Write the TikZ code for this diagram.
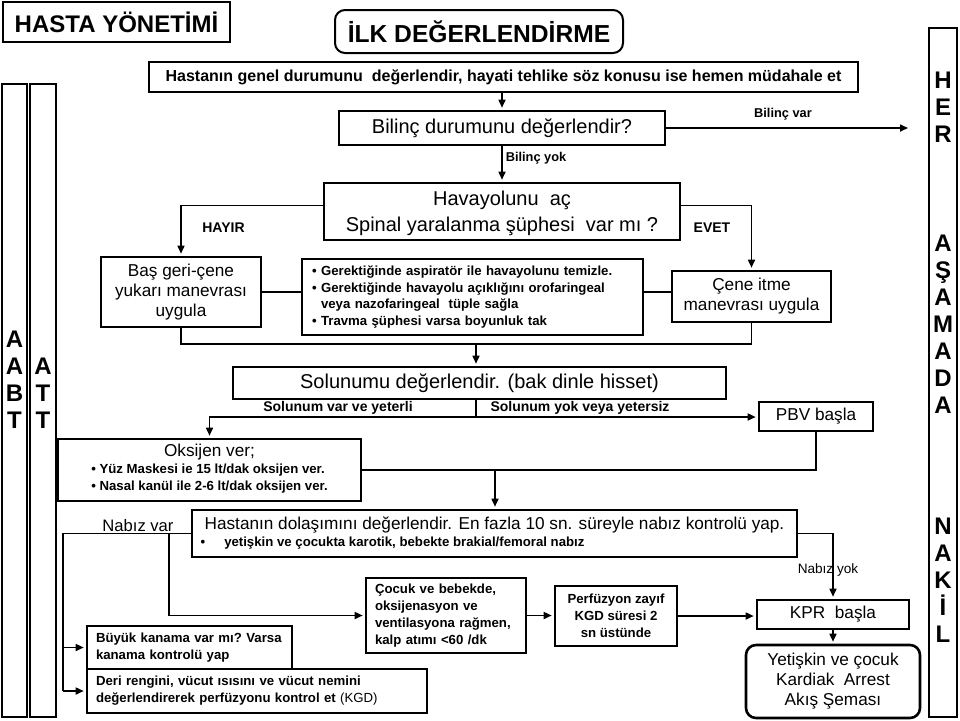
\documentclass[tikz,border=0pt]{standalone}
\usepackage{fontspec}
\setmainfont{Liberation Sans}
\usetikzlibrary{arrows.meta}

\newcommand{\titletxt}{\fontsize{12}{14}\selectfont\bfseries}
\newcommand{\bigtxt}{\fontsize{10}{13}\selectfont}
\newcommand{\midtxt}{\fontsize{8.6}{10}\selectfont}
\newcommand{\smalltxt}{\fontsize{6.6}{8.4}\selectfont\bfseries}
\newcommand{\labtxt}{\fontsize{6.4}{8}\selectfont\bfseries}
\newcommand{\coltxt}{\fontsize{12}{13.5}\selectfont\bfseries}

\tikzset{
	box/.style={draw, line width=1.3pt, inner sep=0pt, align=center},
	leftbox/.style={box, align=left, inner xsep=4.5pt},
	roundbox/.style={box, rounded corners=5pt},
	column/.style={draw, line width=1pt, inner sep=0pt},
	link/.style={line width=0.8pt},
	flow/.style={link, -{Triangle[length=4pt,width=3.5pt]}, shorten >=1pt},
}

\begin{document}
\begin{tikzpicture}[x=0.5pt, y=-0.5pt]
	\useasboundingbox (0,0) rectangle (960,720);
	% side columns
	\node (aabt) at ( 14.5, 400.5)	[column, minimum width=12.5pt, minimum height=316.5pt]	{};
	\node (att)  at ( 43,   400.5)	[column, minimum width=13pt, minimum height=316.5pt]	{};
	\node (her)  at (943,   372.5)	[column, minimum width=14pt, minimum height=344.5pt]	{};
	\node (aabttxt) at ( 14.5, 380)	[font=\coltxt, align=center]	{A\\A\\B\\T};
	\node (atttxt)  at ( 43,   393)	[font=\coltxt, align=center]	{A\\T\\T};
	\node (hertxt)  at (943,   107)	[font=\coltxt, align=center]	{H\\E\\R};
	\node (asamada) at (943,   324)	[font=\coltxt, align=center]	{A\\Ş\\A\\M\\A\\D\\A};
	\node (nakil)   at (943,   580)	[font=\coltxt, align=center]	{N\\A\\K\\İ\\L};
	% titles
	\node (hasta) at (116.5, 22)	[box, line width=1pt, minimum width=113.5pt, minimum height=20pt, font=\titletxt]	{HASTA YÖNETİMİ};
	\node (ilk)   at (479,  31.5)	[roundbox, line width=1pt, minimum width=144pt, minimum height=21.5pt, font=\fontsize{12.3}{14}\selectfont\bfseries]	{İLK DEĞERLENDİRME};
	% airway
	\node (genel)    at (503.5, 77)	[box, minimum width=354.5pt, minimum height=15pt, font=\fontsize{8}{10}\selectfont\bfseries]	{Hastanın genel durumunu\ \ değerlendir, hayati tehlike söz konusu ise hemen müdahale et};
	\node (bilinc)   at (502, 128)	[box, minimum width=163pt, minimum height=17pt, font=\bigtxt]	{Bilinç durumunu değerlendir?};
	\node (havayolu) at (502, 211.5)	[box, minimum width=178pt, minimum height=28.5pt, text depth=0pt, font=\bigtxt]	{Havayolunu\ \ aç\\Spinal yaralanma şüphesi\ \ var mı ?};
	\node (bas)      at (181, 292)	[box, minimum width=80pt, minimum height=35pt, font=\midtxt]	{Baş geri-çene\\yukarı manevrası\\uygula};
	\node (gerek)    at (472.5, 297)	[leftbox, inner xsep=5pt, text width=160.5pt, minimum height=38pt, font=\smalltxt]	{•\ Gerektiğinde aspiratör ile havayolunu temizle.\\•\ Gerektiğinde havayolu açıklığını orofaringeal\\\phantom{•\ }veya nazofaringeal\ \ tüple sağla\\•\ Travma şüphesi varsa boyunluk tak};
	\node (cene)     at (751.5, 296.5)	[box, minimum width=79.5pt, minimum height=25.5pt, font=\midtxt]	{Çene itme\\manevrası uygula};
	% breathing
	\node (solunumu) at (479.5, 383)	[box, minimum width=246.5pt, minimum height=16pt, font=\bigtxt]	{Solunumu değerlendir. (bak dinle hisset)};
	\node (pbv)      at (816, 416.5)	[box, minimum width=57pt, minimum height=14.5pt, font=\midtxt]	{PBV başla};
	\node (oksijen)  at (209.5, 470)	[box, minimum width=151.5pt, minimum height=31pt, font=\smalltxt]	{\begin{tabular}{@{}l@{}}\multicolumn{1}{@{}c@{}}{\midtxt\mdseries Oksijen ver;}\\• Yüz Maskesi ie 15 lt/dak oksijen ver.\\• Nasal kanül ile 2-6 lt/dak oksijen ver.\end{tabular}};
	% circulation
	\node (dolasim)  at (494.5, 533.5)	[box, align=left, minimum width=302.5pt, minimum height=23.5pt, font=\midtxt]	{Hastanın dolaşımını değerlendir. En fazla 10 sn. süreyle nabız kontrolü yap.\\[-1.5pt]{\smalltxt\hspace*{-2pt}•\hspace{9.5pt}yetişkin ve çocukta karotik, bebekte brakial/femoral nabız}};
	\node (cocuk)    at (446, 615.5)	[leftbox, text width=71pt, minimum height=37.5pt, font=\smalltxt]	{Çocuk ve bebekde,\\oksijenasyon ve\\ventilasyona rağmen,\\kalp atımı <60 /dk};
	\node (perf)     at (616, 616)	[box, minimum width=61pt, minimum height=30pt, font=\smalltxt]	{Perfüzyon zayıf\\KGD süresi 2\\sn üstünde};
	\node (kpr)      at (833, 614.5)	[box, minimum width=76pt, minimum height=14.5pt, font=\midtxt]	{KPR\ \ başla};
	\node (yetiskin) at (833, 681.5)	[roundbox, minimum width=87pt, minimum height=36.5pt, font=\midtxt]	{Yetişkin ve çocuk\\Kardiak\ \ Arrest\\Akış Şeması};
	\node (buyuk)    at (189.5, 647.5)	[leftbox, text width=93.5pt, minimum height=21.5pt, font=\smalltxt]	{\mbox{Büyük kanama var mı?\ Varsa}\\kanama kontrolü yap};
	\node (deri)     at (257, 691)	[leftbox, text width=161pt, minimum height=22pt, font=\smalltxt]	{\mbox{Deri rengini, vücut ısısını ve vücut nemini}\\\mbox{değerlendirerek perfüzyonu kontrol et {\mdseries(KGD)}}};
	% labels
	\node (bilincvar)   at (783, 114)	[font=\labtxt]	{Bilinç var};
	\node (bilincyok)   at (536, 158)	[font=\labtxt]	{Bilinç yok};
	\node (hayir)       at (223.5, 228)	[font=\fontsize{7}{8}\selectfont\bfseries]	{HAYIR};
	\node (evet)        at (712, 228)	[font=\fontsize{7}{8}\selectfont\bfseries]	{EVET};
	\node (varyeterli)  at (338, 408)	[font=\fontsize{7}{8}\selectfont\bfseries]	{Solunum var ve yeterli};
	\node (yokyetersiz) at (580, 408)	[font=\fontsize{7}{8}\selectfont\bfseries]	{Solunum yok veya yetersiz};
	\node (nabizvar)    at (138, 526)	[font=\fontsize{8.3}{10}\selectfont]	{Nabız var};
	\node (nabizyok)    at (828, 570)	[font=\fontsize{6.8}{8}\selectfont]	{Nabız yok};
	% bends
	\coordinate (herin) at (910, 128);
	\coordinate (join)  at (476, 344);
	\coordinate (split) at (476, 417);
	\coordinate (merge) at (495, 470);
	\coordinate (nv)    at (63, 533.5);
	\coordinate (cv)    at (169, 533.5);
	% connectors
	\draw[flow] (genel.south -| bilinc.north) -- (bilinc.north);
	\draw[flow] (bilinc.east) -- (herin);
	\draw[flow] (bilinc.south) -- (havayolu.north);
	\draw[flow] ([yshift=3pt]havayolu.west) -| (bas.north);
	\draw[flow] ([yshift=3pt]havayolu.east) -| (cene.north);
	\draw[link] (bas.east) -- (bas.east -| gerek.west);
	\draw[link] (bas.east -| gerek.east) -- (bas.east -| cene.west);
	\draw[link] (bas.south) |- (join) -| (cene.south);
	\draw[flow] (join) -- (join |- solunumu.north);
	\draw[link] (join |- solunumu.south) -- (split);
	\draw[flow] (split) -| (oksijen.north);
	\draw[flow] (split) -- (split -| pbv.west);
	\draw[link] (pbv.south) |- (merge);
	\draw[link] (oksijen.east) -- (merge);
	\draw[flow] (merge) -- (merge |- dolasim.north);
	\draw[link] (dolasim.west) -- (nv) -- (nv |- deri.west);
	\draw[flow] (nv |- buyuk.west) -- (buyuk.west);
	\draw[flow] (nv |- deri.west) -- (deri.west);
	\draw[flow] (cv) |- (cocuk.west);
	\draw[flow] (cocuk.east) -- (cocuk.east -| perf.west);
	\draw[flow] (perf.east) -- (perf.east -| kpr.west);
	\draw[flow] (dolasim.east) -| (kpr.north);
	\draw[flow] (kpr.south) -- (yetiskin.north);
\end{tikzpicture}
\end{document}
